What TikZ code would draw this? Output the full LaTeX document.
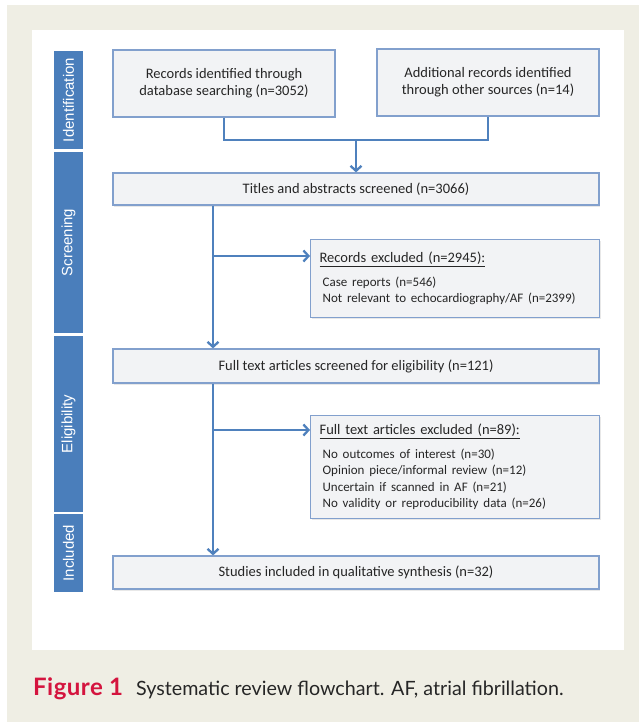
\documentclass[tikz,border=0pt]{standalone}
\usepackage{fontspec}
\setmainfont{Carlito}
\newfontfamily\barfont{Liberation Sans}
\newfontfamily\capfont{Lato}
\newfontfamily\figfont{Lato}[LetterSpace=2]
\usetikzlibrary{arrows.meta,shadows}

\definecolor{barblue}{RGB}{74,126,187}
\definecolor{lineblue}{RGB}{79,129,189}
\definecolor{boxedge}{RGB}{130,160,205}
\definecolor{boxfill}{RGB}{242,243,245}
\definecolor{paper}{RGB}{239,238,228}
\definecolor{figred}{RGB}{212,20,62}
\definecolor{inkgrey}{RGB}{38,38,38}

\newcommand{\exitem}[1]{\hspace*{9pt}{\fontsize{13}{16.5}\selectfont #1}}

\begin{document}
\begin{tikzpicture}[x=1pt,y=-1pt,>={Straight Barb[length=5pt,width=11pt]},
  phase/.style={fill=barblue, text=white, rotate=90, inner sep=0pt,
    minimum height=29, font=\barfont\fontsize{15}{17}\selectfont},
  box/.style={draw=boxedge, line width=1.2pt, fill=boxfill, text=inkgrey,
    inner sep=0pt, align=center, font=\fontsize{14.5}{17}\selectfont,
    drop shadow={shadow xshift=1.2pt, shadow yshift=-1.5pt, opacity=0.18}},
  exclbox/.style={box, anchor=north west, align=left, inner xsep=3pt,
    minimum width=289, text width=283, font=\fontsize{14.5}{16.5}\selectfont},
  flow/.style={draw=lineblue, line width=2.3pt}]

  \useasboundingbox (0,0) rectangle (639,722);

  % Background and panel
  \fill[paper] (7,5) rectangle (639,722);
  \fill[white] (32,30) rectangle (624,650);

  % Phase labels
  \node[phase, minimum width=98] (ph_id) at (68.5,100) {Identification};
  \node[phase, minimum width=181] (ph_scr) at (68.5,242.5) {Screening};
  \node[phase, minimum width=176] (ph_elig) at (68.5,424) {Eligibility};
  \node[phase, minimum width=78] (ph_incl) at (68.5,553) {Included};

  % Boxes
  \node[box, minimum width=222, minimum height=67] (rec_db) at (224,83.5)
    {Records identified through\\database searching (n=3052)};
  \node[box, minimum width=222, minimum height=67] (rec_other) at (488,82.5)
    {Additional records identified\\through other sources (n=14)};
  \node[box, minimum width=486, minimum height=32] (screened) at (356,189)
    {Titles and abstracts screened (n=3066)};
  \node[exclbox, minimum height=78] (excl_rec) at (310,239)
    {\hspace*{6pt}\underline{Records excluded (n=2945):}\\[7pt]
     \exitem{Case reports (n=546)}\\
     \exitem{Not relevant to echocardiography/AF (n=2399)}};
  \node[box, minimum width=486, minimum height=34] (fulltext) at (356,366)
    {Full text articles screened for eligibility (n=121)};
  \node[exclbox, minimum height=103] (excl_full) at (310,415)
    {\hspace*{6pt}\underline{Full text articles excluded (n=89):}\\[7pt]
     \exitem{No outcomes of interest (n=30)}\\
     \exitem{Opinion piece/informal review (n=12)}\\
     \exitem{Uncertain if scanned in AF (n=21)}\\
     \exitem{No validity or reproducibility data (n=26)}};
  \node[box, minimum width=486, minimum height=33] (included) at (356,572.5)
    {Studies included in qualitative synthesis (n=32)};

  % Connectors
  \coordinate (merge) at (356,140);
  \draw[flow] (rec_db.south) |- (merge) -| (rec_other.south);
  \draw[flow,->] (merge) -- (screened.north);

  \draw[flow,->] ([xshift=-143pt]screened.south) -- ([xshift=-143pt]fulltext.north);
  \coordinate (branch1) at (213,256);
  \draw[flow,->] (branch1) -- (excl_rec.west |- branch1);

  \draw[flow,->] ([xshift=-143pt]fulltext.south) -- ([xshift=-143pt]included.north);
  \coordinate (branch2) at (213,430);
  \draw[flow,->] (branch2) -- (excl_full.west |- branch2);

  % Caption
  \node[anchor=base west, inner sep=0pt, text=inkgrey,
    font=\capfont\fontsize{19.7}{24}\selectfont] (caption) at (33,695)
    {{\color{figred}\figfont\fontsize{24}{24}\selectfont\bfseries Figure 1}\hspace{13pt}Systematic review flowchart. AF, atrial fibrillation.};
\end{tikzpicture}
\end{document}
